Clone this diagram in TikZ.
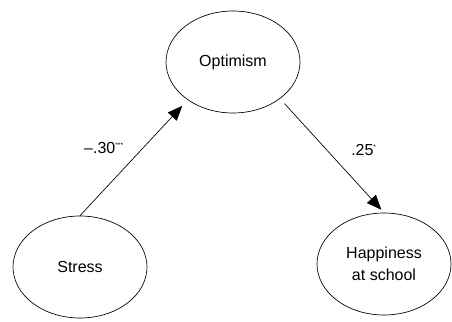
\documentclass[tikz,border=0pt]{standalone}
\usepackage{fontspec}
\setmainfont{Liberation Sans}
\usetikzlibrary{shapes.geometric,arrows.meta}

\begin{document}
\begin{tikzpicture}[
  x=0.75pt,y=-0.75pt,
  var/.style={draw, ellipse, line width=0.5pt, inner sep=0pt, align=center,
    minimum width=100.5pt, minimum height=76.5pt,
    font=\fontsize{12}{16.5}\selectfont},
  path/.style={-{Triangle[length=11pt,width=9pt]}, line width=0.5pt},
  coef/.style={font=\fontsize{12}{14}\selectfont}
]
\useasboundingbox (0,0) rectangle (452,321);

\node[var] (opt) at (233,62) {Optimism};
\node[var] (stress) at (80,267) {Stress};
\node[var] (happy) at (384,264) {Happiness\\at school};

\draw[path, shorten >=6pt] (stress.north) -- (opt.220);
\draw[path, shorten <=5pt, shorten >=3pt] (opt.-38) -- (happy.north);

\node[coef] (a) at (104,148) {–.30\textsuperscript{\tiny ***}};
\node[coef] (b) at (364,150) {.25\textsuperscript{\tiny *}};
\end{tikzpicture}
\end{document}
